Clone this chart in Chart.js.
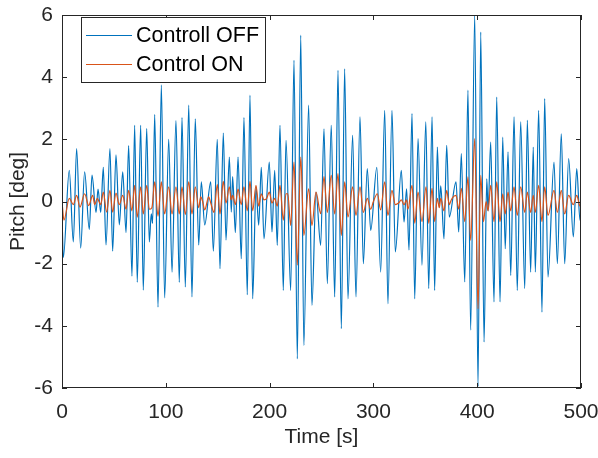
<!DOCTYPE html>
<html><head><meta charset="utf-8">
<script src="https://cdn.jsdelivr.net/npm/chart.js@4.4.1/dist/chart.umd.min.js"></script>
<style>html,body{margin:0;padding:0;background:#fff}#wrap{width:598px;height:458px}</style>
</head><body><div id="wrap"><canvas id="c" width="598" height="458"></canvas></div>
<script>
// ---- data ----
const seriesNames = ['Controll OFF', 'Control ON'];
const xTickValues = [0, 100, 200, 300, 400, 500];
const yTickValues = [-6, -4, -2, 0, 2, 4, 6];

const offTimes = [0,1.3,7.0,10.9,14.1,18.0,21.8,26.3,28.9,32.8,34.7,37.3,39.8,42.4,46.2,48.8,52.0,55.2,58.5,61.7,64.2,67.4,70.0,72.5,75.8,78.3,81.6,84.1,86.0,87.3,89.3,92.5,95.7,98.9,102.8,106.0,109.8,113.0,115.6,118.8,122.1,125.2,128.4,131.7,134.2,137.5,143.3,145.8,149.6,152.2,155.4,158.0,161.2,163.1,164.4,167.0,169.6,172.7,175.3,178.5,181.1,183.7,186.9,189.5,192.0,194.6,199.7,202.3,204.9,207.4,210.0,213.2,215.8,220.3,223.5,226.7,230.0,233.0,237.6,240.8,244.7,249.2,252.4,255.6,259.4,262.7,265.9,269.1,272.3,275.5,280.0,283.2,287.1,290.3,294.1,297.4,303.3,307.0,310.9,314.0,317.9,321.1,326.9,329.5,332.0,334.3,337.2,339.8,343.0,346.8,350.5,353.3,356.5,359.0,361.6,363.5,364.9,368.0,370.6,373.1,379.6,382.2,384.7,388.0,391.1,393.7,397.6,400.8,403.4,406.6,409.2,410.5,413.0,416.2,418.8,422.0,424.6,427.0,429.7,432.3,435.5,438.6,441.9,445.8,448.3,451.5,454.0,456.0,459.2,462.4,465.0,468.2,474.0,477.2,481.0,484.3,488.1,492.6,495.9,499.0,500];
const offValues = [-0.4,-1.8,1.0,-1.3,1.7,-1.5,0.95,-0.9,0.85,-0.35,0.4,-0.35,1.1,-1.4,1.7,-1.6,1.5,-0.75,0.95,-1.0,1.8,-2.4,2.45,-2.6,2.45,-2.85,2.35,-1.3,-0.4,-0.7,2.8,-3.4,3.75,-3.1,2.0,-2.27,2.6,-2.6,2.7,-2.75,3.1,-3.07,2.66,-1.4,0.63,-0.75,0.63,-1.6,2.0,-2.16,2.2,-1.24,1.43,-0.34,0.8,-1.0,1.43,-1.84,2.7,-3.0,3.42,-3.13,0.47,-0.76,1.1,-1.2,1.27,-0.98,1.0,-1.41,2.45,-2.86,1.97,-2.86,4.54,-5.06,5.35,-4.63,3.1,-3.34,0.3,-1.41,2.34,-2.64,2.45,-3.07,4.22,-4.09,4.27,-3.13,2.13,-3.07,2.72,-2.0,1.06,-0.93,1.1,-2.27,2.93,-3.29,2.93,-1.62,1.0,-0.66,0.41,-1.56,2.83,-3.13,2.02,-2.05,2.56,-2.8,2.72,-2.86,1.75,-0.1,0.5,-1.2,1.81,-0.5,0.63,-0.98,1.54,-2.59,3.58,-4.14,6.0,-5.95,5.45,-4.52,0.73,-0.3,1.91,-3.23,3.36,-3.23,2.07,-1.52,1.6,-2.38,2.72,-2.86,2.56,-2.8,2.61,-2.27,1.75,-2.27,2.93,-3.56,3.31,-2.43,1.27,-2.0,2.18,-2.0,1.38,-1.14,1.06,-0.6,-0.3];

const onTimes = [0,1.9,7.0,10.9,14.1,17.3,21.8,25.7,29.5,31.5,34.0,37.3,39.8,43.0,46.2,48.8,52.0,55.2,58.5,61.7,64.2,67.4,70.0,72.5,75.8,78.3,81.6,84.1,86.6,89.3,92.5,95.7,98.9,102.8,106.0,109.8,113.0,115.6,118.8,122.1,125.2,128.4,131.7,133.6,135.5,137.5,141.3,143.3,146.5,149.6,152.2,155.4,158.0,161.2,163.1,164.4,167.0,169.6,172.7,175.3,178.5,181.1,183.7,186.9,189.5,192.0,194.6,197.2,199.7,202.3,204.9,207.4,210.0,213.2,215.8,217.5,220.3,223.5,226.7,230.0,233.0,237.6,240.8,244.7,249.2,252.4,255.6,259.4,262.7,265.9,269.1,272.3,275.5,280.0,283.2,287.1,290.3,294.1,297.4,300.0,303.8,307.0,310.9,314.0,317.9,321.1,324.3,326.9,329.5,332.0,333.3,337.2,339.8,343.0,346.8,350.7,353.3,356.5,359.0,361.6,363.5,364.9,368.0,370.6,373.1,375.0,376.9,379.6,382.2,384.7,388.0,391.1,393.7,397.6,400.8,403.4,406.0,408.6,410.5,413.0,416.2,418.8,422.0,424.6,427.0,429.7,432.3,435.5,438.6,441.9,445.8,448.3,451.5,454.0,456.0,459.2,462.4,465.0,468.2,474.0,477.2,481.0,484.3,488.1,492.6,495.9,499.0,500];
const onValues = [0.0,-0.6,0.1,-0.1,0.2,-0.18,0.25,-0.13,0.2,-0.1,0.1,-0.1,0.3,-0.34,0.36,-0.34,0.27,-0.1,0.2,-0.25,0.36,-0.3,0.52,-0.5,0.47,-0.4,0.52,-0.25,-0.2,0.63,-0.47,0.63,-0.4,0.47,-0.4,0.47,-0.4,0.47,-0.42,0.63,-0.4,0.47,-0.2,0.15,0.0,-0.27,0.15,-0.05,-0.35,0.55,-0.4,0.65,-0.05,0.47,0.05,0.2,-0.1,0.4,-0.1,0.47,-0.3,0.65,-0.3,0.52,-0.15,0.25,0.05,0.1,0.3,-0.05,0.1,-0.15,0.52,-0.6,0.25,0.25,-0.77,1.27,-2.05,1.43,-1.09,0.41,-0.77,0.3,-0.39,0.8,-0.35,0.84,-0.4,0.9,-1.09,0.63,-0.5,0.47,-0.45,0.47,-0.35,0.1,-0.25,0.0,0.25,-0.27,0.63,-0.45,0.36,-0.1,-0.05,0.05,-0.1,0.05,-0.25,0.52,-0.7,0.3,-0.65,0.47,-0.7,0.42,-0.65,0.1,-0.2,0.1,-0.3,0.36,-0.1,0.05,0.15,0.2,-0.25,0.42,-0.65,0.79,-1.25,2.02,-3.45,0.84,-0.65,0.0,-0.3,0.52,-0.65,0.63,-0.65,0.25,-0.4,0.3,-0.3,0.47,-0.45,0.47,-0.35,0.3,-0.35,0.2,-0.35,0.52,-0.65,0.47,-0.45,0.36,-0.35,0.36,-0.4,0.2,-0.1,0.2,-0.15,0.05];

// ---- styling ----
const BLUE = '#0072BD', ORANGE = '#D95319', AX = '#262626';
const FONT = 'Liberation Sans, Arial, Helvetica, sans-serif';

const toPts = (ts, vs) => ts.map((t, i) => ({x: t, y: vs[i]}));

const framePlugin = {
  id: 'frame',
  afterDraw(chart) {
    const {ctx, chartArea: a, scales} = chart;
    ctx.save();
    ctx.strokeStyle = AX; ctx.lineWidth = 1;
    ctx.strokeRect(Math.round(a.left) + 0.5, Math.round(a.top) + 0.5, Math.round(a.right - a.left) - 1, Math.round(a.bottom - a.top) - 1);
    const tl = 5;
    ctx.beginPath();
    scales.x.ticks.forEach(t => {
      const px = Math.round(scales.x.getPixelForValue(t.value)) + 0.5;
      ctx.moveTo(px, a.bottom); ctx.lineTo(px, a.bottom - tl);
      ctx.moveTo(px, a.top); ctx.lineTo(px, a.top + tl);
    });
    scales.y.ticks.forEach(t => {
      const py = Math.round(scales.y.getPixelForValue(t.value)) + 0.5;
      ctx.moveTo(a.left, py); ctx.lineTo(a.left + tl, py);
      ctx.moveTo(a.right, py); ctx.lineTo(a.right - tl, py);
    });
    ctx.stroke();
    // legend box
    const bx = 81.5, by = 17.5, bw = 184, bh = 65;
    ctx.fillStyle = '#fff';
    ctx.fillRect(bx, by, bw, bh);
    ctx.strokeStyle = AX;
    ctx.strokeRect(bx, by, bw, bh);
    const rows = [35.5, 64.5];
    chart.data.datasets.forEach((ds, i) => {
      ctx.strokeStyle = ds.borderColor; ctx.lineWidth = 1;
      ctx.beginPath(); ctx.moveTo(86, rows[i]); ctx.lineTo(132, rows[i]); ctx.stroke();
      ctx.fillStyle = '#000';
      ctx.font = '21.5px ' + FONT;
      ctx.textBaseline = 'middle'; ctx.textAlign = 'left';
      ctx.fillText(ds.label, 136, rows[i] + 1);
    });
    ctx.restore();
  }
};

new Chart(document.getElementById('c'), {
  type: 'line',
  data: {
    datasets: [
      {label: seriesNames[0], data: toPts(offTimes, offValues), borderColor: BLUE, borderWidth: 1.2, pointRadius: 0, cubicInterpolationMode: 'monotone', order: 2},
      {label: seriesNames[1], data: toPts(onTimes, onValues), borderColor: ORANGE, borderWidth: 1.2, pointRadius: 0, cubicInterpolationMode: 'monotone', order: 1}
    ]
  },
  options: {
    responsive: false, animation: false, devicePixelRatio: 1,
    layout: {padding: {top: 15, right: 17, left: 0, bottom: 0}},
    plugins: {legend: {display: false}, tooltip: {enabled: false}},
    scales: {
      x: {
        type: 'linear', min: 0, max: 500,
        afterBuildTicks: s => { s.ticks = xTickValues.map(v => ({value: v})); },
        afterFit: s => { s.height = 70; s.paddingLeft = 0; s.paddingRight = 0; },
        grid: {display: false, drawTicks: false},
        border: {display: false},
        ticks: {color: AX, font: {family: FONT, size: 21}, padding: 12, maxRotation: 0},
        title: {display: true, text: 'Time [s]', color: AX, font: {family: FONT, size: 21}, padding: {top: 0, bottom: 8}}
      },
      y: {
        type: 'linear', min: -6, max: 6,
        afterBuildTicks: s => { s.ticks = yTickValues.map(v => ({value: v})); },
        afterFit: s => { s.width = 62; s.paddingTop = 0; s.paddingBottom = 0; },
        grid: {display: false, drawTicks: false},
        border: {display: false},
        ticks: {color: AX, font: {family: FONT, size: 21}, padding: 9},
        title: {display: true, text: 'Pitch [deg]', color: AX, font: {family: FONT, size: 21}, padding: {top: 6, bottom: 0}}
      }
    }
  },
  plugins: [framePlugin]
});
</script>
</body></html>
